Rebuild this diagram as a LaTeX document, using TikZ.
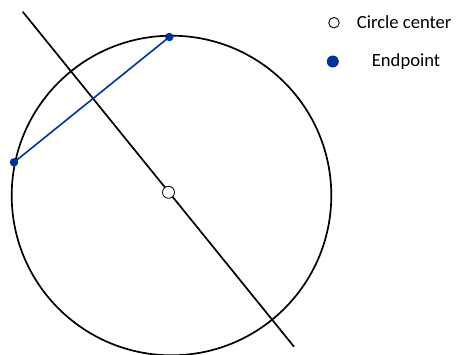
\documentclass[tikz,border=0pt]{standalone}
\usepackage{fontspec}
\setmainfont{Carlito}
\definecolor{ptblue}{RGB}{0,51,153}
\tikzset{
  bigline/.style={line width=1.7pt, black},
  chordline/.style={line width=1.6pt, ptblue},
  centermark/.style={circle, draw=black, line width=0.8pt, fill=white, minimum size=12pt, inner sep=0pt},
  endmark/.style={circle, fill=ptblue, minimum size=8.5pt, inner sep=0pt},
  legendend/.style={circle, fill=ptblue, minimum size=12pt, inner sep=0pt},
  legendcenter/.style={circle, draw=black, line width=0.9pt, fill=white, minimum size=10.5pt, inner sep=0pt},
  legendtext/.style={anchor=base west, inner sep=0pt, font=\fontsize{18.6pt}{20pt}\selectfont}
}
\begin{document}
\begin{tikzpicture}[x=1pt,y=-1pt]
\useasboundingbox (0,0) rectangle (458,354);
% coordinates
\coordinate (O) at (171.5,195.5);
\coordinate (p1) at (22.7,11.7);
\coordinate (p2) at (294,346.7);
\coordinate (a) at (169.3,37);
\coordinate (b) at (14,162.3);
% big circle
\draw[bigline] (O) circle[radius=159.8pt];
% bisector line
\draw[bigline] (p1) -- (p2);
% chord
\draw[chordline] (a) -- (b);
% markers
\node[centermark] (cc) at (168.5,192.3) {};
\node[endmark] (ea) at (a) {};
\node[endmark] (eb) at (b) {};
% legend
\node[legendcenter] (lc) at (334,22.7) {};
\node[legendtext] (lct) at (356.7,28.3) {Circle center};
\node[legendend] (le) at (332.8,61.5) {};
\node[legendtext] (let) at (371.7,66.7) {Endpoint};
\end{tikzpicture}
\end{document}
